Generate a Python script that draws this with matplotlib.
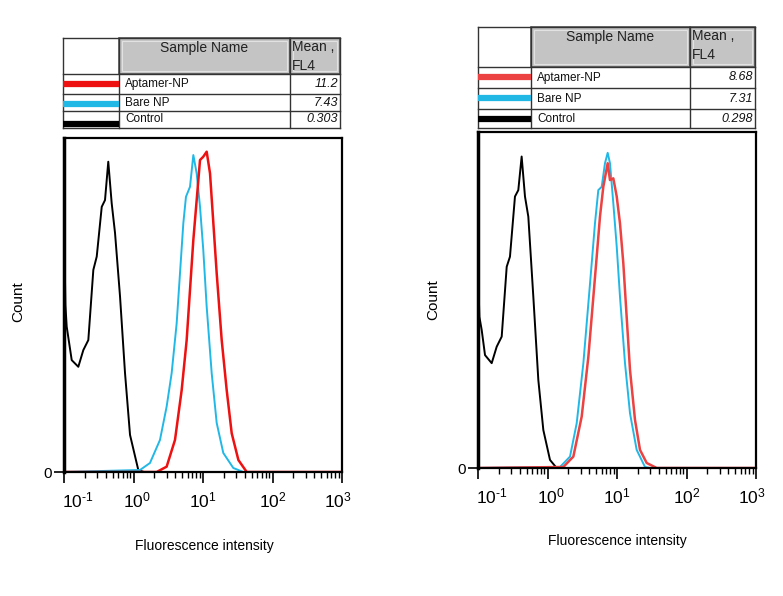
import numpy as np
import matplotlib
matplotlib.use("Agg")
import matplotlib.pyplot as plt
import matplotlib.transforms as mtransforms
from matplotlib.patches import Rectangle
from matplotlib.ticker import FixedLocator, FuncFormatter, NullFormatter

plt.rcParams['font.family'] = ['Liberation Sans', 'DejaVu Sans']
plt.rcParams['mathtext.fontset'] = 'custom'
plt.rcParams['mathtext.rm'] = 'Liberation Sans'
plt.rcParams['mathtext.it'] = 'Liberation Sans:italic'

W, H = 783, 596

# table content
sample_names = ['Aptamer-NP', 'Bare NP', 'Control']
line_colors_left = ['#ee1111', '#22b8e6', '#000000']
line_colors_right = ['#ec4242', '#22b8e6', '#000000']
means_left = ['11.2', '7.43', '0.303']
means_right = ['8.68', '7.31', '0.298']

# histograms, x as log10(fluorescence), y as % of axis height
# left panel
ctrl_L_logx = [-1.0, -0.99, -0.98, -0.961, -0.889, -0.794, -0.722, -0.650, -0.578, -0.529, -0.457, -0.410,
               -0.363, -0.314, -0.266, -0.194, -0.122, -0.050, 0.069, 0.15, 3.0]
ctrl_L_y = [97, 63, 50, 43.5, 33.5, 31.5, 36.5, 39.5, 60.5, 64.5, 79.4, 81.4,
            92.9, 80.5, 71.6, 52.6, 29.6, 11.1, 0.6, 0, 0]
bare_L_logx = [-1.0, 0.094, 0.237, 0.381, 0.477, 0.549, 0.621, 0.669, 0.717, 0.755, 0.813, 0.861,
               0.909, 0.957, 1.004, 1.053, 1.125, 1.197, 1.292, 1.436, 1.580, 3.0]
bare_L_y = [0, 0.6, 2.7, 9.6, 19.6, 29.6, 44.5, 59.5, 74.5, 82.4, 85.4, 94.9,
            89.4, 79.4, 66.5, 49.5, 29.6, 14.7, 5.7, 1.2, 0, 0]
apt_L_logx = [-1.0, 0.333, 0.477, 0.597, 0.693, 0.765, 0.813, 0.861, 0.909, 0.957, 1.004, 1.053,
              1.101, 1.149, 1.197, 1.269, 1.341, 1.413, 1.509, 1.629, 3.0]
apt_L_y = [0, 0, 1.6, 9.6, 24.5, 39.5, 54.5, 69.5, 81.4, 93.4, 94.4, 95.9,
           89.4, 74.5, 59.5, 39.5, 24.5, 11.6, 3.6, 0, 0]

# right panel
ctrl_R_logx = [-1.0, -0.99, -0.98, -0.947, -0.899, -0.803, -0.731, -0.659, -0.587, -0.540, -0.468, -0.420,
               -0.372, -0.324, -0.276, -0.204, -0.132, -0.060, 0.036, 0.132, 3.0]
ctrl_R_y = [97, 52, 45, 41.1, 33.6, 31.2, 36.1, 39.1, 59.9, 62.9, 80.8, 82.7,
            92.7, 80.8, 74.8, 51.0, 26.2, 11.3, 2.4, 0, 0]
bare_R_logx = [-1.0, 0.180, 0.324, 0.420, 0.516, 0.588, 0.636, 0.683, 0.731, 0.780, 0.827, 0.866,
               0.899, 0.947, 0.996, 1.043, 1.115, 1.187, 1.283, 1.403, 1.475, 3.0]
bare_R_y = [0, 0.3, 3.4, 13.3, 31.2, 49.0, 60.9, 72.8, 82.7, 83.7, 90.7, 93.8,
            90.7, 78.8, 65.9, 51.0, 31.2, 16.3, 5.4, 0.3, 0, 0]
apt_R_logx = [-1.0, 0.228, 0.372, 0.492, 0.588, 0.660, 0.708, 0.755, 0.803, 0.866, 0.899, 0.947,
              0.996, 1.043, 1.091, 1.139, 1.187, 1.259, 1.331, 1.427, 1.571, 3.0]
apt_R_y = [0, 0.3, 3.4, 15.3, 33.1, 51.0, 62.9, 74.8, 83.7, 90.7, 85.7, 86.2,
           80.8, 72.8, 60.9, 45.0, 29.2, 14.3, 5.4, 1.5, 0, 0]

decade_ticks = [0.1, 1, 10, 100, 1000]
label_shift_px = [14, 3, 0, 0, -4]


def px_axes(fig, x0, y0, x1, y1):
    return fig.add_axes([x0 / W, 1 - y1 / H, (x1 - x0) / W, (y1 - y0) / H])


def decade_label(v, p):
    e = int(round(np.log10(v)))
    if e < 0:
        return r'$\mathregular{10^{\text{-}%d}}$' % (-e)
    return r'$\mathregular{10^{%d}}$' % e


def draw_table(fig, cols, rows, line_y, colors, means):
    ax = px_axes(fig, cols[0] - 2, rows[0] - 2, cols[-1] + 2, rows[-1] + 2)
    ax.set_xlim(cols[0] - 2, cols[-1] + 2)
    ax.set_ylim(rows[-1] + 2, rows[0] - 2)
    ax.axis('off')
    # header cells
    for c0, c1 in [(cols[1], cols[2]), (cols[2], cols[3])]:
        ax.add_patch(Rectangle((c0, rows[0]), c1 - c0, rows[1] - rows[0], facecolor='#c4c4c4',
                               edgecolor='#555555', lw=1.2))
        ax.add_patch(Rectangle((c0 + 3, rows[0] + 3), c1 - c0 - 6, rows[1] - rows[0] - 6,
                               facecolor='none', edgecolor='#e2e2e2', lw=0.8))
    ax.text((cols[1] + cols[2]) / 2, rows[0] + 3, 'Sample Name', ha='center', va='top', fontsize=10, color='#222222')
    ax.text(cols[2] + 2, rows[0] + 2, 'Mean ,\nFL4', ha='left', va='top', fontsize=10,
            color='#222222', linespacing=1.45)
    # grid lines
    for r in rows:
        ax.plot([cols[0], cols[-1]], [r, r], color='#333333', lw=1.0)
    for c in cols:
        ax.plot([c, c], [rows[0], rows[-1]], color='#333333', lw=1.0)
    for i in range(3):
        ax.plot([cols[0], cols[1]], [line_y[i], line_y[i]], color=colors[i], lw=4.5, solid_capstyle='butt')
        yc = (rows[i + 1] + rows[i + 2]) / 2
        ax.text(cols[1] + 6, yc, sample_names[i], ha='left', va='center', fontsize=8.5, color='#111111')
        ax.text(cols[3] - 2, yc, means[i], ha='right', va='center', fontsize=9, style='italic', color='#111111')


def draw_hist(fig, box, series):
    x0, y0, x1, y1 = box
    ax = px_axes(fig, x0, y0, x1, y1)
    for (lx, yy, col, lw) in series:
        ax.plot(10 ** np.array(lx), yy, color=col, lw=lw)
    ax.set_xscale('log')
    ax.set_xlim(0.1, 1000)
    ax.set_ylim(0, 100)
    ax.xaxis.set_major_locator(FixedLocator(decade_ticks))
    ax.xaxis.set_major_formatter(FuncFormatter(decade_label))
    ax.xaxis.set_minor_formatter(NullFormatter())
    ax.set_yticks([0])
    ax.set_yticklabels(['0'])
    ax.tick_params(axis='x', which='major', length=8, width=1.2, labelsize=12.5, pad=5)
    ax.tick_params(axis='x', which='minor', length=4, width=1.0)
    ax.tick_params(axis='y', length=7, width=1.2, labelsize=11, pad=2)
    for s in ['top', 'right', 'bottom']:
        ax.spines[s].set_linewidth(1.6)
    ax.spines['left'].set_linewidth(2.5)
    for tick, dx in zip(ax.xaxis.get_major_ticks(), label_shift_px):
        off = mtransforms.ScaledTranslation(dx / 100, 0, fig.dpi_scale_trans)
        tick.label1.set_transform(tick.label1.get_transform() + off)
    return ax


fig = plt.figure(figsize=(W / 100, H / 100), dpi=100)

draw_table(fig, [63, 119, 290, 340], [38, 74, 94, 111, 128], [84, 104, 124], line_colors_left, means_left)
draw_table(fig, [478, 531, 690, 755], [27, 67, 88, 109, 128], [77, 98, 119], line_colors_right, means_right)

draw_hist(fig, (64, 138, 342, 472),
          [(ctrl_L_logx, ctrl_L_y, '#000000', 1.4),
           (bare_L_logx, bare_L_y, line_colors_left[1], 1.4),
           (apt_L_logx, apt_L_y, line_colors_left[0], 1.8)])
draw_hist(fig, (478, 132, 756, 468),
          [(ctrl_R_logx, ctrl_R_y, '#000000', 1.4),
           (bare_R_logx, bare_R_y, line_colors_right[1], 1.4),
           (apt_R_logx, apt_R_y, line_colors_right[0], 1.8)])

fig.text(18 / W, 1 - 302 / H, 'Count', rotation=90, ha='center', va='center', fontsize=11)
fig.text(433 / W, 1 - 300 / H, 'Count', rotation=90, ha='center', va='center', fontsize=11)
fig.text(204 / W, 1 - 546 / H, 'Fluorescence intensity', ha='center', va='center', fontsize=10)
fig.text(617 / W, 1 - 541 / H, 'Fluorescence intensity', ha='center', va='center', fontsize=10)

fig.savefig('out.png', dpi=100)
